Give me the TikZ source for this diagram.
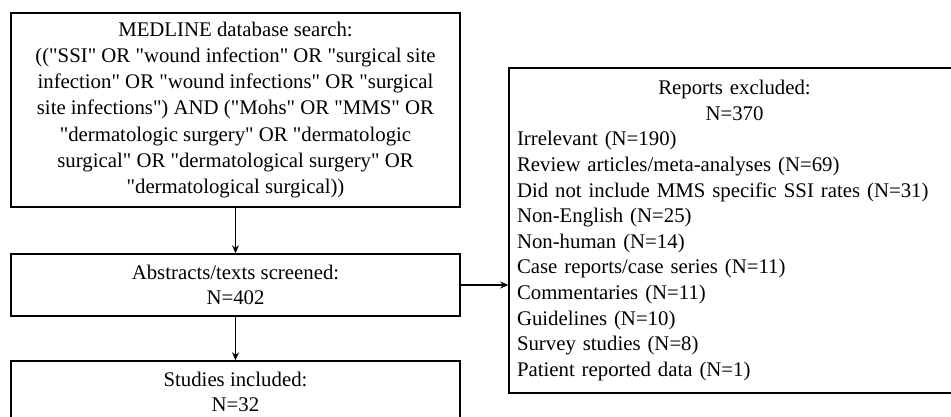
\documentclass[tikz,border=0pt]{standalone}
\usepackage{fontspec}
\setmainfont{Liberation Serif}[Ligatures=TeXOff]
\usetikzlibrary{arrows.meta}
\tikzset{
  flowbox/.style={draw=black, line width=1.5pt, fill=white, inner sep=0pt, align=center},
  flowarrow/.style={line width=1.5pt, -{Stealth[length=8pt,width=7pt]}},
}
\begin{document}
\begin{tikzpicture}[x=1pt,y=-1pt]
\useasboundingbox (0,0) rectangle (951,417);
\clip (0,0) rectangle (951,417);
\fill[white] (0,0) rectangle (951,417);
\node[flowbox, minimum width=449pt, minimum height=194pt,
  font={\fontsize{20.8}{26.2}\selectfont}] (search) at (235.5,110)
  {MEDLINE database search:\\
   (("SSI" OR "wound infection" OR "surgical site\\
   infection" OR "wound infections" OR "surgical\\
   site infections") AND ("Mohs" OR "MMS" OR\\
   "dermatologic surgery" OR "dermatologic\\
   surgical" OR "dermatological surgery" OR\\
   "dermatological surgical))};
\node[flowbox, minimum width=449pt, minimum height=62pt,
  font={\fontsize{20.8}{25}\selectfont}] (screen) at (235.5,285)
  {Abstracts/texts screened:\\N=402};
\node[flowbox, minimum width=449pt, minimum height=62pt,
  font={\fontsize{20.8}{25}\selectfont}] (incl) at (235.5,392)
  {Studies included:\\N=32};
\node[draw=black, line width=1.5pt, fill=white, inner xsep=8pt, inner ysep=0pt,
  text width=435pt, minimum height=325pt,
  font={\fontsize{20.8}{25.6}\selectfont}] (excl) at (734.5,230.5)
  {{\centering Reports excluded:\\N=370\par}
   \raggedright
   Irrelevant (N=190)\\
   Review articles/meta-analyses (N=69)\\
   Did not include MMS specific SSI rates (N=31)\\
   Non-English (N=25)\\
   Non-human (N=14)\\
   Case reports/case series (N=11)\\
   Commentaries (N=11)\\
   Guidelines (N=10)\\
   Survey studies (N=8)\\
   Patient reported data (N=1)\par};
\draw[flowarrow] (search.south) -- (screen.north);
\draw[flowarrow] (screen.south) -- (incl.north);
\draw[flowarrow] (screen.east) -- (screen.east -| excl.west);
\end{tikzpicture}
\end{document}
